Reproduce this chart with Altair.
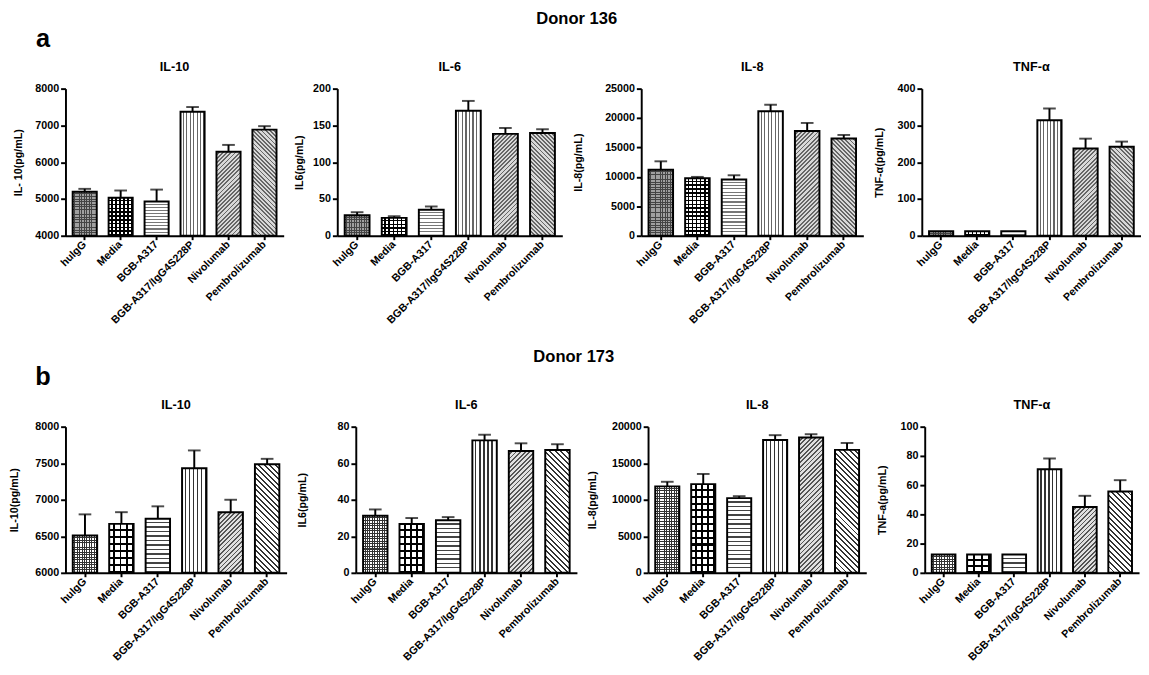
import math
import altair as alt
import pandas as pd

FONT = "Liberation Sans"
CLEAR = "rgba(0,0,0,0)"

cats = ["hulgG", "Media", "BGB-A317", "BGB-A317/IgG4S228P", "Nivolumab", "Pembrolizumab"]

# Donor 136
d136_il10 = [5195, 5035, 4930, 7370, 6285, 6885]
d136_il10_err = [80, 195, 325, 130, 185, 95]
d136_il6 = [28, 24.3, 35.4, 170, 138.5, 139.8]
d136_il6_err = [4, 2.2, 4.4, 13.3, 8, 5]
d136_il8 = [11200, 9780, 9560, 21160, 17790, 16520]
d136_il8_err = [1450, 220, 720, 1110, 1380, 610]
d136_tnf = [12, 12, 12, 314, 237, 242]
d136_tnf_err = [0, 0, 0, 32, 27, 14]

# Donor 173
d173_il10 = [6510, 6670, 6740, 7430, 6830, 7485]
d173_il10_err = [290, 160, 170, 245, 170, 75]
d173_il6 = [31.2, 26.7, 28.8, 72.5, 66.7, 67.2]
d173_il6_err = [3.5, 3.3, 1.7, 3.1, 4.2, 3.2]
d173_il8 = [11830, 12140, 10220, 18170, 18530, 16830]
d173_il8_err = [630, 1390, 270, 670, 440, 940]
d173_tnf = [12.5, 12.5, 12.5, 70.9, 45.0, 55.7]
d173_tnf_err = [0, 0, 0, 7.3, 7.7, 7.7]

PAD_IN = 0.33
PAD_OUT = 0.2


def stripes(color, kind, frac, s, w, h):
    if kind == "v":
        n = w / s
        coords = dict(x1=0, y1=0, x2=1, y2=0)
    elif kind == "h":
        n = h / s
        coords = dict(x1=0, y1=0, x2=0, y2=1)
    else:
        t = (w + h) / (w * w + h * h)
        n = (w + h) / (math.sqrt(2) * s)
        if kind == "d1":
            coords = dict(x1=0, y1=0, x2=t * w, y2=t * h)
        else:
            coords = dict(x1=1, y1=0, x2=1 - t * w, y2=t * h)
    n = max(1, int(round(n)))
    stops = []
    for k in range(n):
        a = round(k / n, 5)
        b = round((k + 1 - frac) / n, 5)
        c = round(min(1.0, (k + 1) / n), 5)
        stops += [
            alt.GradientStop(offset=a, color=CLEAR),
            alt.GradientStop(offset=b, color=CLEAR),
            alt.GradientStop(offset=b, color=color),
            alt.GradientStop(offset=c, color=color),
        ]
    return alt.LinearGradient(gradient="linear", stops=stops, **coords)


def fills_for(i, row, w, h):
    if row == 0:
        spec = [
            ("#a0a0a0", [("v", "#444444", 0.35, 2.6), ("h", "#444444", 0.35, 2.6)]),
            ("white", [("v", "black", 0.4, 4), ("h", "black", 0.4, 4)]),
            ("white", [("h", "#777777", 0.35, 3.3)]),
            ("white", [("v", "#666666", 0.35, 3.4)]),
            ("#d8d8d8", [("d1", "#666666", 0.45, 3)]),
            ("#d8d8d8", [("d2", "#666666", 0.45, 3)]),
        ]
    else:
        spec = [
            ("white", [("v", "#333333", 0.4, 2.6), ("h", "#333333", 0.4, 2.6)]),
            ("white", [("v", "black", 0.3, 7), ("h", "black", 0.3, 7)]),
            ("white", [("h", "#444444", 0.3, 4.5)]),
            ("white", [("v", "#333333", 0.3, 4)]),
            ("#e0e0e0", [("d1", "#555555", 0.4, 3.3)]),
            ("white", [("d2", "#333333", 0.35, 4)]),
        ]
    basecol, overlays = spec[i]
    out = [basecol]
    for kind, col, frac, s in overlays:
        out.append(stripes(col, kind, frac, s, w, h))
    return out


def panel(vals, errs, title, ytitle, domain, ticks, W, H, row, tpad):
    df = pd.DataFrame({"cat": cats, "val": vals, "err": errs})
    df["top"] = df["val"] + df["err"]
    df["base"] = domain[0]
    step = W / (len(cats) - PAD_IN + 2 * PAD_OUT)
    bw = step * (1 - PAD_IN)

    xenc = alt.X(
        "cat:N", sort=cats,
        scale=alt.Scale(paddingInner=PAD_IN, paddingOuter=PAD_OUT),
        axis=alt.Axis(
            title=None, labelAngle=-45, labelAlign="right", labelBaseline="middle",
            labelFont=FONT, labelFontSize=11, labelFontWeight="bold", labelColor="black",
            domainWidth=2, domainColor="black", tickWidth=2, tickColor="black",
            tickSize=4, labelPadding=3, labelLimit=200,
        ),
    )
    yscale = alt.Scale(domain=domain, nice=False, zero=False)
    yaxis = alt.Axis(
        title=ytitle, values=ticks, format="d", grid=False,
        domainWidth=2, domainColor="black", tickWidth=2, tickColor="black", tickSize=5,
        labelFont=FONT, labelFontSize=11, labelFontWeight="bold", labelColor="black",
        labelPadding=2, titleFont=FONT, titleFontSize=11, titleFontWeight="bold",
        titleColor="black", titlePadding=tpad,
    )
    yenc = alt.Y("val:Q", scale=yscale, axis=yaxis)
    base = alt.Chart(df).encode(x=xenc)
    layers = []
    for i, c in enumerate(cats):
        h = (vals[i] - domain[0]) / (domain[1] - domain[0]) * H
        sub = base.transform_filter(alt.datum.cat == c)
        for f in fills_for(i, row, bw, h):
            layers.append(sub.mark_bar(fill=f, strokeWidth=0).encode(y=yenc, y2="base:Q"))
    layers.append(
        base.mark_bar(fill="transparent", stroke="black", strokeWidth=2).encode(y=yenc, y2="base:Q")
    )
    eb = base.transform_filter(alt.datum.err > 0)
    layers.append(
        eb.mark_rule(color="black", strokeWidth=2).encode(
            y=alt.Y("val:Q", scale=yscale, axis=yaxis), y2="top:Q"
        )
    )
    layers.append(
        eb.mark_tick(color="black", size=13, thickness=2).encode(
            y=alt.Y("top:Q", scale=yscale, axis=yaxis)
        )
    )
    return alt.layer(*layers).properties(
        width=W, height=H,
        title=alt.TitleParams(title, font=FONT, fontSize=13, fontWeight="bold",
                              color="black", offset=9),
    )


def letter_view(letter, lx):
    ldf = pd.DataFrame({"t": [letter]})
    return alt.Chart(ldf).mark_text(
        font=FONT, fontSize=26, fontWeight="bold", color="black",
        align="center", baseline="middle",
    ).encode(text="t:N", x=alt.value(lx), y=alt.value(10)).properties(width=20, height=20)


row1 = alt.hconcat(
    panel(d136_il10, d136_il10_err, "IL-10", "IL- 10(pg/mL)", [4000, 8000],
          [4000, 5000, 6000, 7000, 8000], 224, 151, 0, 12),
    panel(d136_il6, d136_il6_err, "IL-6", "IL6(pg/mL)", [0, 200],
          [0, 50, 100, 150, 200], 231, 151, 0, 8),
    panel(d136_il8, d136_il8_err, "IL-8", "IL-8(pg/mL)", [0, 25000],
          [0, 5000, 10000, 15000, 20000, 25000], 228, 151, 0, 22),
    panel(d136_tnf, d136_tnf_err, "TNF-α", "TNF-α(pg/mL)", [0, 400],
          [0, 100, 200, 300, 400], 225, 151, 0, 13),
    spacing=10,
)

row2 = alt.hconcat(
    panel(d173_il10, d173_il10_err, "IL-10", "IL-10(pg/mL)", [6000, 8000],
          [6000, 6500, 7000, 7500, 8000], 227, 150, 1, 16),
    panel(d173_il6, d173_il6_err, "IL-6", "IL6(pg/mL)", [0, 80],
          [0, 20, 40, 60, 80], 227, 150, 1, 30),
    panel(d173_il8, d173_il8_err, "IL-8", "IL-8(pg/mL)", [0, 20000],
          [0, 5000, 10000, 15000, 20000], 224, 150, 1, 14),
    panel(d173_tnf, d173_tnf_err, "TNF-α", "TNF-a(pg/mL)", [0, 100],
          [0, 20, 40, 60, 80, 100], 220, 150, 1, 13),
    spacing=10,
)


def block(letter, row, name):
    return alt.vconcat(letter_view(letter, -23), row, spacing=10).properties(
        title=alt.TitleParams(name, font=FONT, fontSize=17, fontWeight="bold",
                              color="black", anchor="middle", offset=-2)
    )


chart = alt.vconcat(
    block("a", row1, "Donor 136"),
    block("b", row2, "Donor 173"),
    spacing=24,
).properties(
    padding={"left": 0, "top": -6, "right": 0, "bottom": 0}
).configure_view(strokeWidth=0)

chart.save("out.html", embed_options={"renderer": "svg", "actions": False})
